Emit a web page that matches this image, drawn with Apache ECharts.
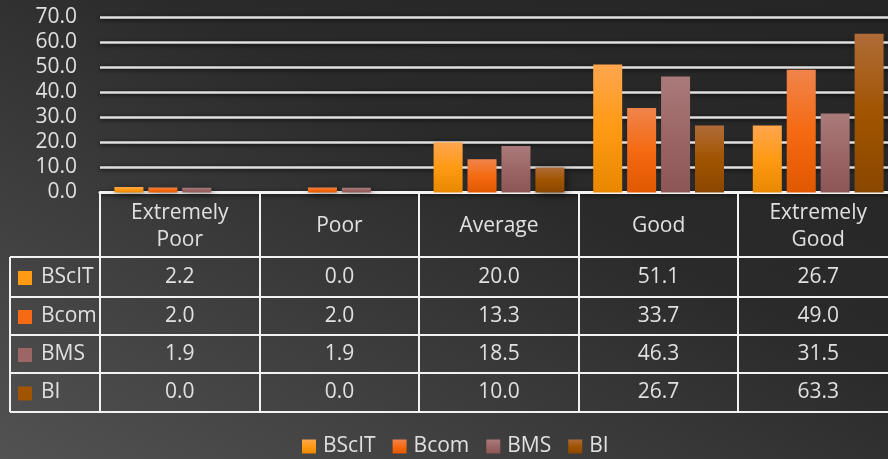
<!DOCTYPE html>
<html>
<head>
<meta charset="utf-8">
<script src="https://cdn.jsdelivr.net/npm/echarts@6/dist/echarts.min.js"></script>
<style>
html,body{margin:0;padding:0;}
#c{width:888px;height:459px;background:linear-gradient(to top right,#525252 0%,#3e3e3e 30%,#2a2a2a 60%,#252525 100%);}
</style>
</head>
<body>
<div id="c"></div>
<script>
const categories = ['Extremely Poor', 'Poor', 'Average', 'Good', 'Extremely Good'];
const seriesNames = ['BScIT', 'Bcom', 'BMS', 'BI'];
const bscit = [2.2, 0.0, 20.0, 51.1, 26.7];
const bcom = [2.0, 2.0, 13.3, 33.7, 49.0];
const bms = [1.9, 1.9, 18.5, 46.3, 31.5];
const bi = [0.0, 0.0, 10.0, 26.7, 63.3];
const yMin = 0, yMax = 70, yStep = 10;

const values = [bscit, bcom, bms, bi];
const gradients = [
  ['#FFA64E', '#FF9A14', '#E88800'],
  ['#F0844C', '#F56A12', '#E05800'],
  ['#AA7A7A', '#9C6666', '#8C5656'],
  ['#B06C38', '#A05400', '#8A4700']
];
const solid = ['#FF9A14', '#F56A12', '#9C6666', '#A05400'];
const FONT = 'Open Sans';
const FS = 21;
const TXT = '#e0e0e0';

function grad(c) {
  return new echarts.graphic.LinearGradient(0, 0, 0, 1, [
    {offset: 0, color: c[0]}, {offset: 0.5, color: c[1]}, {offset: 1, color: c[2]}
  ]);
}

const chart = echarts.init(document.getElementById('c'), null, {renderer: 'canvas'});
chart.setOption({
  backgroundColor: 'transparent',
  animation: false,
  grid: {left: 100, width: 798, top: 17, height: 175.5, containLabel: false, outerBoundsMode: 'none'},
  legend: {
    data: seriesNames,
    top: 431,
    left: 297,
    icon: 'rect',
    itemWidth: 14,
    itemHeight: 14,
    itemGap: 17,
    textStyle: {color: TXT, fontSize: FS, fontFamily: FONT, padding: [0, 0, 0, 2]}
  },
  xAxis: {
    type: 'category',
    data: categories,
    axisTick: {show: false},
    axisLine: {lineStyle: {color: '#f2f2f2', width: 3}},
    axisLabel: {
      color: TXT, fontSize: FS, fontFamily: FONT, margin: 34, verticalAlign: 'middle',
      lineHeight: 27, interval: 0,
      formatter: v => v.indexOf('Extremely') === 0 ? v.replace(' ', '\n') : v
    }
  },
  yAxis: {
    type: 'value',
    min: yMin, max: yMax, interval: yStep,
    axisLine: {show: false},
    axisTick: {show: false},
    axisLabel: {color: TXT, fontSize: FS, fontFamily: FONT, margin: 23, formatter: v => v.toFixed(1)},
    splitLine: {lineStyle: {color: '#e0e0e0', width: 2.5, shadowColor: 'rgba(0,0,0,0.8)', shadowBlur: 4, shadowOffsetY: 1}}
  },
  series: seriesNames.map((n, i) => ({
    name: n,
    type: 'bar',
    data: values[i],
    barWidth: 29,
    barGap: '17%',
    itemStyle: {
      color: grad(gradients[i]),
      shadowColor: 'rgba(0,0,0,0.55)', shadowBlur: 8, shadowOffsetX: 2, shadowOffsetY: 2
    }
  }))
});

// Data table under the chart
const c0 = chart.convertToPixel({xAxisIndex: 0}, 0);
const c1 = chart.convertToPixel({xAxisIndex: 0}, 1);
const band = c1 - c0;
const axisY = chart.convertToPixel({yAxisIndex: 0}, 0);
const headerBottom = 257;
const rowLines = [257, 297, 335, 373, 412];
const tableLeft = 10;
const lineStyle = {stroke: '#f2f2f2', lineWidth: 2};
const g = [];
for (let i = 0; i < categories.length; i++) {
  const x = Math.round(chart.convertToPixel({xAxisIndex: 0}, i) - band / 2);
  g.push({type: 'line', shape: {x1: x, y1: axisY, x2: x, y2: rowLines[rowLines.length - 1]}, style: lineStyle});
}
g.push({type: 'line', shape: {x1: tableLeft, y1: headerBottom, x2: tableLeft, y2: rowLines[rowLines.length - 1]}, style: lineStyle});
rowLines.forEach(y => {
  g.push({type: 'line', shape: {x1: tableLeft, y1: y, x2: 888, y2: y}, style: lineStyle});
});
for (let r = 0; r < seriesNames.length; r++) {
  const cy = (rowLines[r] + rowLines[r + 1]) / 2;
  g.push({type: 'rect', shape: {x: 18, y: cy - 6, width: 14, height: 14}, style: {fill: solid[r]}});
  g.push({type: 'text', style: {text: seriesNames[r], x: 41, y: cy, fill: TXT, font: FS + 'px "' + FONT + '"', align: 'left', verticalAlign: 'middle'}});
  for (let i = 0; i < categories.length; i++) {
    const cx = chart.convertToPixel({xAxisIndex: 0}, i);
    g.push({type: 'text', style: {text: values[r][i].toFixed(1), x: cx, y: cy, fill: TXT, font: FS + 'px "' + FONT + '"', align: 'center', verticalAlign: 'middle'}});
  }
}
chart.setOption({graphic: {elements: g}});
</script>
</body>
</html>
